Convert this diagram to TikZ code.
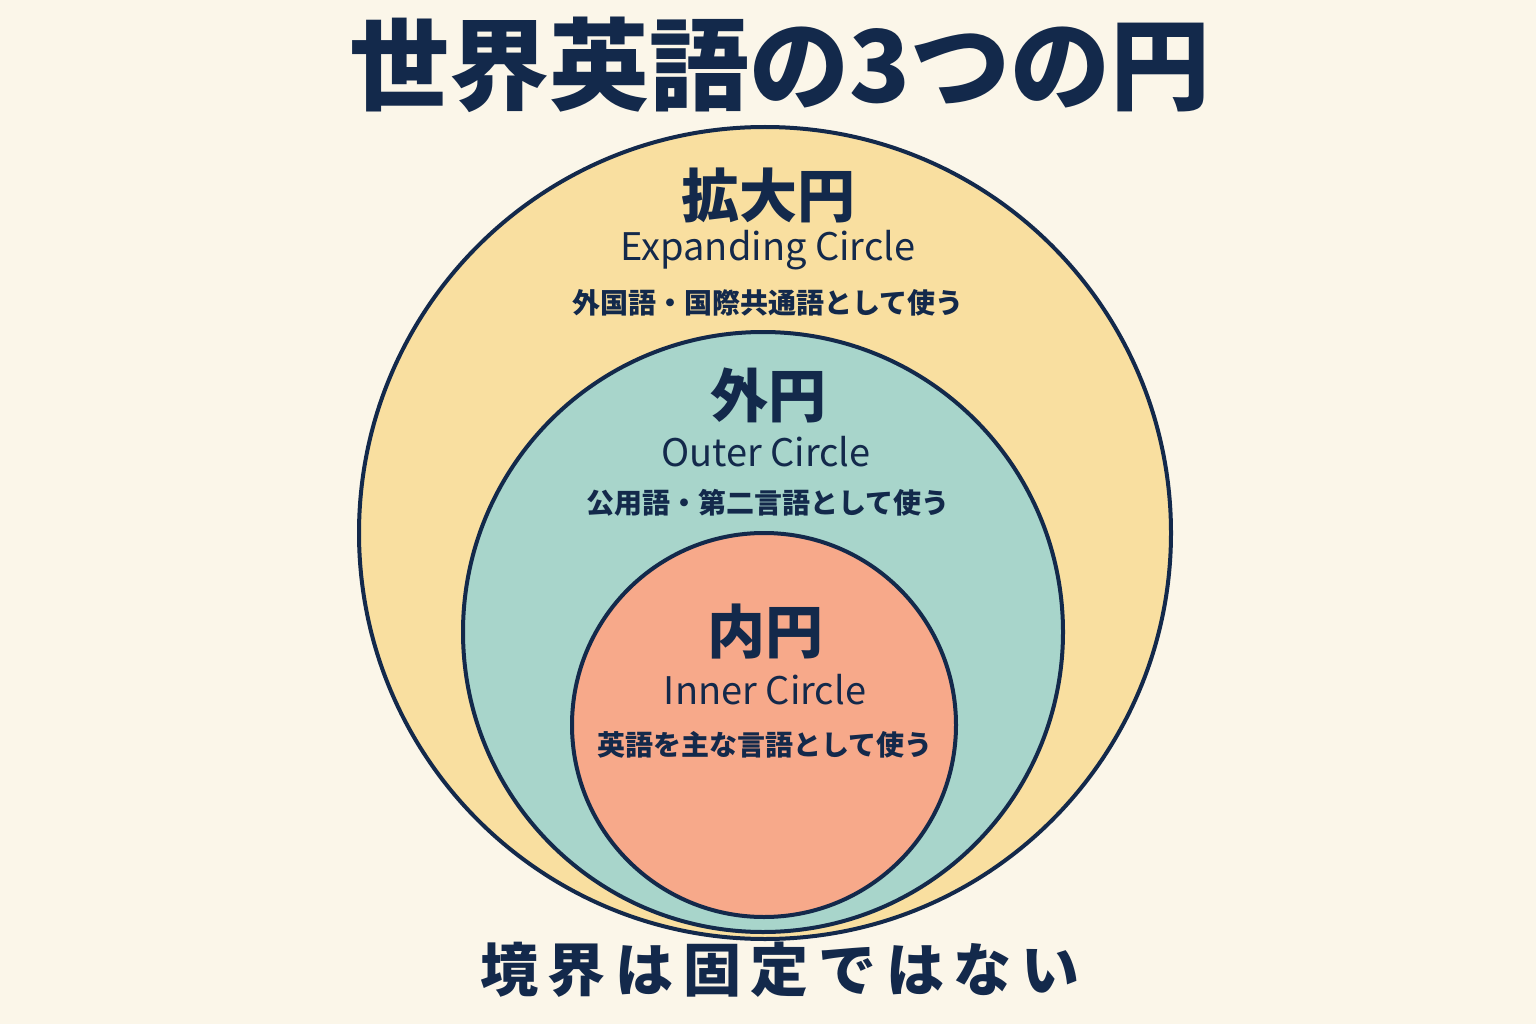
\documentclass[tikz,border=0pt]{standalone}
\usepackage{fontspec}
\setmainfont{Noto Sans CJK JP}
\newfontfamily\cjkbold{Noto Sans CJK JP}[BoldFont=* Bold]
\definecolor{bgcream}{HTML}{FBF6E9}
\definecolor{ringyellow}{HTML}{F9DFA0}
\definecolor{ringteal}{HTML}{A8D5CB}
\definecolor{ringsalmon}{HTML}{F7A98A}
\definecolor{navy}{HTML}{13294B}
\begin{document}
\begin{tikzpicture}[
        x=1pt, y=-1pt,
        % Define styles
        ring/.style={draw=navy, line width=4pt},
        head/.style={text=navy, font=\bfseries\fontsize{58}{60}\selectfont},
        eng/.style={text=navy, font=\fontsize{38}{40}\selectfont},
        note/.style={text=navy, font=\bfseries\fontsize{28}{30}\selectfont}
    ]

        % --- Background ---
        \fill[bgcream] (0,0) rectangle (1536,1024);
        \useasboundingbox (0,0) rectangle (1536,1024);

        % --- Circles ---
        \draw[ring, fill=ringyellow] (765,533) circle (406);
        \draw[ring, fill=ringteal] (763,632) circle (300);
        \draw[ring, fill=ringsalmon] (764,725) circle (192);

        % --- Title ---
        \node[text=navy, font=\bfseries\fontsize{100}{104}\selectfont] (title) at (780,65) {世界英語の3つの円};

        % --- Expanding Circle ---
        \node[head] (expand_head) at (768,195) {拡大円};
        \node[eng] (expand_eng) at (768,250) {Expanding Circle};
        \node[note] (expand_note) at (768,303) {外国語・国際共通語として使う};

        % --- Outer Circle ---
        \node[head] (outer_head) at (768,395) {外円};
        \node[eng] (outer_eng) at (766,452) {Outer Circle};
        \node[note] (outer_note) at (768,503) {公用語・第二言語として使う};

        % --- Inner Circle ---
        \node[head] (inner_head) at (765,632) {内円};
        \node[eng] (inner_eng) at (765,690) {Inner Circle};
        \node[note] (inner_note) at (765,745) {英語を主な言語として使う};

        % --- Footer ---
        \node[text=navy, font=\bfseries\fontsize{58}{60}\selectfont] (footer) at (780,970) {境\,界\,は\,固\,定\,で\,は\,な\,い};

    \end{tikzpicture}
\end{document}
